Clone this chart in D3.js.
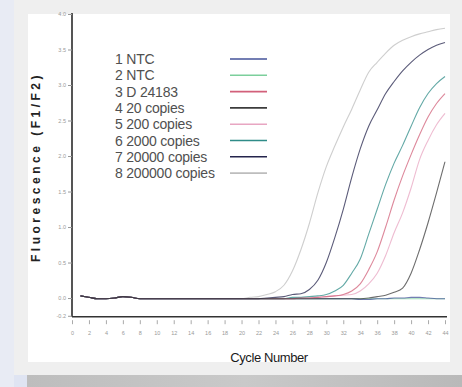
<!DOCTYPE html>
<html>
<head>
<meta charset="utf-8">
<script src="https://cdn.jsdelivr.net/npm/d3@7"></script>
<style>
  html, body { margin: 0; padding: 0; background: #e8ebf4; }
  svg { display: block; }
</style>
</head>
<body>
<svg id="svg" width="462" height="387"></svg>
<script>
// cycles 1..44
const cycles = d3.range(1, 45);

// shared flat start, cycles 1-20
const early = [0.03, 0.01, -0.01, -0.01, 0.0, 0.02, 0.01, -0.01, -0.01, -0.01,
               -0.01, -0.01, -0.01, -0.01, -0.01, -0.01, -0.01, -0.01, -0.01, -0.01];

// cycles 21-44 for each run
const ntc1 = [-0.01, -0.01, -0.01, -0.01, -0.01, -0.01, -0.01, -0.01, -0.01, -0.01, -0.01, -0.01,
              -0.01, -0.02, -0.02, -0.01, -0.01, 0.0, 0.0, 0.01, 0.01, 0.0, -0.01, -0.01];
const ntc2 = [-0.01, -0.01, -0.01, -0.01, -0.01, -0.01, -0.01, -0.01, -0.01, -0.01, -0.01, -0.01,
              -0.01, -0.01, -0.01, -0.01, -0.01, -0.01, -0.01, -0.01, -0.01, -0.01, -0.01, -0.01];
const d24183 = [-0.01, -0.01, -0.01, -0.01, -0.01, -0.01, 0.0, 0.0, 0.01, 0.02, 0.03, 0.05,
                0.1, 0.2, 0.4, 0.65, 1.0, 1.38, 1.72, 2.02, 2.3, 2.55, 2.74, 2.88];
const c20 = [-0.01, -0.01, -0.01, -0.01, -0.01, -0.01, -0.01, -0.01, -0.01, -0.01, -0.01, -0.01,
             -0.01, -0.01, 0.0, 0.02, 0.04, 0.08, 0.14, 0.35, 0.68, 1.06, 1.48, 1.92];
const c200 = [-0.01, -0.01, -0.01, -0.01, -0.01, -0.01, 0.0, 0.0, 0.01, 0.02, 0.03, 0.04,
              0.05, 0.1, 0.2, 0.35, 0.6, 0.92, 1.2, 1.55, 1.95, 2.22, 2.44, 2.6];
const c2000 = [-0.01, -0.01, -0.01, -0.01, -0.01, 0.01, 0.01, 0.02, 0.03, 0.05, 0.1, 0.18,
               0.35, 0.55, 0.9, 1.25, 1.6, 1.9, 2.15, 2.42, 2.68, 2.88, 3.02, 3.12];
const c20000 = [-0.01, -0.01, 0.0, 0.01, 0.02, 0.05, 0.06, 0.12, 0.25, 0.5, 0.85, 1.25,
                1.7, 2.1, 2.42, 2.65, 2.88, 3.05, 3.2, 3.32, 3.42, 3.5, 3.56, 3.6];
const c200000 = [0.01, 0.02, 0.05, 0.09, 0.18, 0.38, 0.68, 1.05, 1.48, 1.85, 2.14, 2.41,
                 2.66, 2.93, 3.18, 3.32, 3.45, 3.56, 3.63, 3.68, 3.72, 3.75, 3.78, 3.8];

const legendNames = ["1 NTC", "2 NTC", "3 D 24183", "4 20 copies", "5 200 copies",
                     "6 2000 copies", "7 20000 copies", "8 200000 copies"];
const legendColors = ["#44539a", "#7ccf9c", "#d2607a", "#3c3c3c", "#e8a6c2",
                      "#2f8c88", "#24244c", "#bdbdbd"];
const seriesValues = [ntc1, ntc2, d24183, c20, c200, c2000, c20000, c200000];

const xTickValues = d3.range(0, 45, 2);
const yTickValues = [-0.25, 0, 0.5, 1.0, 1.5, 2.0, 2.5, 3.0, 3.5, 4.0];
const yTickLabels = ["-0.2", "0.0", "0.5", "1.0", "1.5", "2.0", "2.5", "3.0", "3.5", "4.0"];

const svg = d3.select("#svg");

// photo frame
svg.append("rect").attr("x", 14).attr("y", 0).attr("width", 448).attr("height", 375).attr("fill", "#efefef");
svg.append("rect").attr("x", 28).attr("y", 14).attr("width", 422).attr("height", 348).attr("fill", "#ffffff");
const grad = svg.append("defs").append("linearGradient").attr("id", "bar");
grad.append("stop").attr("offset", "0").attr("stop-color", "#bdbdbd");
grad.append("stop").attr("offset", "0.5").attr("stop-color", "#c9c9c9");
grad.append("stop").attr("offset", "1").attr("stop-color", "#b9b9b9");
svg.append("rect").attr("x", 27).attr("y", 375).attr("width", 435).attr("height", 12).attr("fill", "url(#bar)");
svg.append("rect").attr("x", 14).attr("y", 375).attr("width", 13).attr("height", 12).attr("fill", "#dfe4f2");

const x = d3.scaleLinear().domain([0, 44]).range([72, 445]);
const y = d3.scaleLinear().domain([-0.26, 4.0]).range([316.5, 14]);

// y axis
const yAxis = svg.append("g")
  .attr("transform", "translate(72,0)")
  .call(d3.axisLeft(y).tickValues(yTickValues).tickSize(4).tickPadding(2)
    .tickFormat((d, i) => yTickLabels[i]));
yAxis.select(".domain").attr("stroke", "#555").attr("stroke-width", 2).attr("d", "M0,13V317");
yAxis.selectAll(".tick line").attr("stroke", "#999");
yAxis.selectAll(".tick text").attr("fill", "#999").attr("font-size", 5.5)
  .attr("font-family", "Liberation Sans, Arial, sans-serif");

// x axis
const xAxis = svg.append("g")
  .attr("transform", "translate(0,316.7)")
  .call(d3.axisBottom(x).tickValues(xTickValues).tickSize(0).tickPadding(14));
xAxis.select(".domain").attr("stroke", "#333").attr("stroke-width", 1.6).attr("d", "M72,0H447");
xAxis.selectAll(".tick").append("line")
  .attr("y1", 3.5).attr("y2", 7.5).attr("stroke", "#aaa").attr("stroke-width", 1);
xAxis.selectAll(".tick text").attr("fill", "#999").attr("font-size", 5.5)
  .attr("font-family", "Liberation Sans, Arial, sans-serif");

// titles
svg.append("text")
  .attr("transform", "translate(40,167) rotate(-90)")
  .attr("text-anchor", "middle")
  .attr("font-family", "Liberation Sans, Arial, sans-serif")
  .attr("font-weight", "bold").attr("font-size", 12)
  .attr("letter-spacing", 3.5)
  .attr("fill", "#222")
  .text("Fluorescence (F1/F2)");

svg.append("text")
  .attr("x", 269).attr("y", 362)
  .attr("text-anchor", "middle")
  .attr("font-family", "Liberation Sans, Arial, sans-serif")
  .attr("font-size", 13).attr("letter-spacing", -0.4)
  .attr("fill", "#1a1a1a")
  .text("Cycle Number");

// curves
const line = d3.line().x(d => x(d.c)).y(d => y(d.v)).curve(d3.curveMonotoneX);
const drawOrder = [7, 1, 0, 4, 5, 2, 6, 3];
svg.append("g").attr("fill", "none")
  .selectAll("path")
  .data(drawOrder)
  .join("path")
    .attr("stroke", i => legendColors[i])
    .attr("stroke-width", 1.1)
    .attr("stroke-opacity", 0.75)
    .attr("d", i => line(early.concat(seriesValues[i]).map((v, k) => ({ c: cycles[k], v: v }))));

// legend
const legend = svg.append("g")
  .selectAll("g")
  .data(legendNames)
  .join("g")
    .attr("transform", (d, i) => `translate(0,${59 + i * 16.3})`);
legend.append("text")
  .attr("x", 115).attr("y", 5)
  .attr("font-family", "Liberation Sans, Arial, sans-serif")
  .attr("font-size", 14).attr("letter-spacing", -0.2)
  .attr("fill", "#505050")
  .text(d => d);
legend.append("line")
  .attr("x1", 230).attr("x2", 267)
  .attr("stroke", (d, i) => legendColors[i])
  .attr("stroke-width", 1.6);
</script>
</body>
</html>
